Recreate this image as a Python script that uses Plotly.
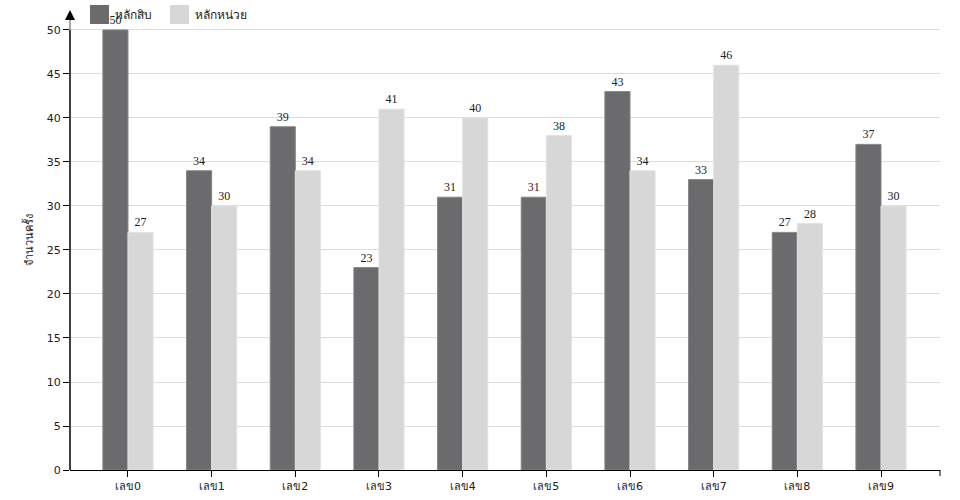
import plotly.graph_objects as go

categories = ["เลข0", "เลข1", "เลข2", "เลข3", "เลข4", "เลข5", "เลข6", "เลข7", "เลข8", "เลข9"]
series_names = ["หลักสิบ", "หลักหน่วย"]
tens = [50, 34, 39, 23, 31, 31, 43, 33, 27, 37]
units = [27, 30, 34, 41, 40, 38, 34, 46, 28, 30]
y_title = "จำนวนครั้ง"
colors = ["#6b6b6d", "#d7d7d7"]
edges = ["#858585", "#e2e2e2"]

YMAX = 52.27

fig = go.Figure()
for name, vals, c, e in zip(series_names, [tens, units], colors, edges):
    fig.add_trace(go.Bar(
        x=list(range(len(categories))), y=vals, name=name,
        marker=dict(color=c, line=dict(color=e, width=1)),
        text=[str(v) for v in vals], textposition="outside",
        textfont=dict(family="Liberation Serif", size=12, color="#222"),
        cliponaxis=False, showlegend=False,
    ))

fig.update_layout(
    width=960, height=500,
    margin=dict(l=70, r=20, t=10, b=30, autoexpand=False),
    plot_bgcolor="white", paper_bgcolor="white",
    barmode="group", bargap=0.4, bargroupgap=0,
    font=dict(family="DejaVu Sans", size=11, color="#222"),
    xaxis=dict(
        range=[-0.693, 9.705], tickmode="array",
        tickvals=list(range(len(categories))), ticktext=categories,
        ticks="outside", ticklen=6, tickcolor="black", showgrid=False,
        showline=True, linecolor="black", linewidth=1, zeroline=False,
        tickfont=dict(size=11), automargin=False,
    ),
    yaxis=dict(
        range=[0, YMAX], tick0=0, dtick=5, ticks="outside", ticklen=6,
        tickcolor="black", showgrid=True, gridcolor="#dcdcdc", gridwidth=1,
        showline=False, zeroline=False, tickfont=dict(size=11),
        title=dict(text=y_title, font=dict(size=11), standoff=10),
        automargin=False,
    ),
)

# y axis line: black up to 50, grey extension, arrowhead
fig.add_shape(type="line", xref="paper", yref="paper", x0=0, x1=0, y0=0, y1=50 / YMAX,
              line=dict(color="black", width=1.5), layer="above")
fig.add_shape(type="line", xref="paper", yref="paper", x0=0, x1=0, y0=50 / YMAX,
              y1=(470 - 19) / 460, line=dict(color="#888", width=1.5), layer="above")
hw = 5 / 870
yb = (470 - 20) / 460
fig.add_shape(type="path", xref="paper", yref="paper",
              path=f"M {-hw} {yb} L {hw} {yb} L 0 1 Z",
              fillcolor="black", line=dict(color="black", width=0))
# x axis end tick
fig.add_shape(type="line", xref="paper", yref="paper", x0=1, x1=1, y0=0, y1=-6 / 460,
              line=dict(color="black", width=1))

# custom legend
leg_x = [90, 170]
for name, c, lx in zip(series_names, colors, leg_x):
    fig.add_shape(type="rect", xref="paper", yref="paper",
                  x0=(lx - 70) / 870, x1=(lx + 19 - 70) / 870,
                  y0=(470 - 24) / 460, y1=(470 - 5) / 460,
                  fillcolor=c, line=dict(width=0))
    fig.add_annotation(xref="paper", yref="paper", x=(lx + 23 - 70) / 870,
                       y=(470 - 14.5) / 460, text=name, showarrow=False,
                       xanchor="left", yanchor="middle",
                       font=dict(size=12, color="#222"))

fig.write_html("out.html", config={"displayModeBar": False},
               post_script="document.body.style.margin='0';")
